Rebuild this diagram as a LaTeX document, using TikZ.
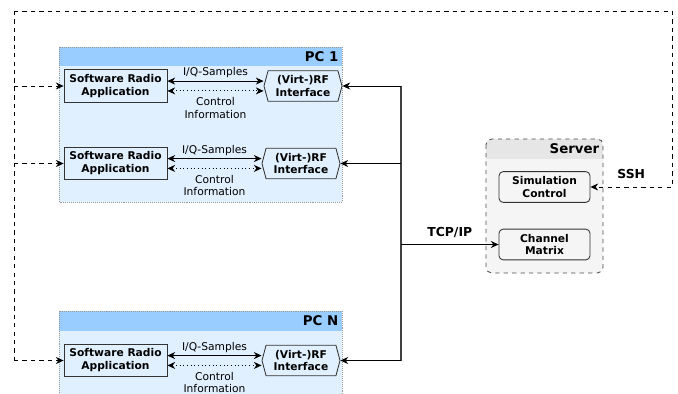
\documentclass[tikz,border=0pt]{standalone}
\usepackage{fontspec}
\setmainfont{DejaVu Sans}
\usepackage{tikz}
\usetikzlibrary{positioning}
\usetikzlibrary{arrows.meta}
\usetikzlibrary{shapes.symbols}

\definecolor{pchead}{HTML}{99CCFF}
\definecolor{pcbody}{HTML}{E1F0FF}
\definecolor{srvhead}{HTML}{E6E6E6}
\definecolor{srvbody}{HTML}{F5F5F5}

\tikzset{
  app/.style={draw=black!80, fill=pcbody, semithick, minimum width=2.575cm, minimum height=0.75cm,
    align=center, font=\fontsize{7.6}{9.2}\selectfont\bfseries},
  rf/.style={signal, signal to=east and west, signal pointer angle=150, draw=black!80, fill=pcbody,
    semithick, minimum width=1.95cm, minimum height=0.75cm, inner xsep=0.5pt,
    align=center, font=\fontsize{7.6}{9.2}\selectfont\bfseries},
  ctl/.style={draw=black!80, fill=srvbody, rounded corners=3pt, semithick, minimum width=2.275cm,
    minimum height=0.77cm, align=center, font=\fontsize{7.6}{9.2}\selectfont\bfseries},
  head/.style={anchor=east, inner sep=1pt, font=\fontsize{9.5}{11}\selectfont\bfseries},
  lbl/.style={font=\fontsize{8.8}{10}\selectfont\bfseries},
  lp/.style={dashed, semithick},
}

\begin{document}
\begin{tikzpicture}[x=0.025cm, y=-0.025cm, >={Stealth[length=5.5pt,width=5pt]},
    font=\fontsize{7.6}{9}\selectfont]
            \useasboundingbox (0,0) rectangle (678,394);

            % Rechner
            \fill[pcbody] (59,47) rectangle (342,202);
            \fill[pchead] (59,47) rectangle (342,66);
            \draw[gray!80, densely dotted] (59,47) rectangle (342,202);
            \node[head] (pc1) at (340,56.5) {PC 1};

            \fill[pcbody] (59,311) rectangle (342,400);
            \fill[pchead] (59,311) rectangle (342,331);
            \draw[gray!80, densely dotted] (59,311) rectangle (342,400);
            \node[head] (pcn) at (340,321) {PC N};

            % Server
            \fill[srvbody, rounded corners=4pt] (486,139) rectangle (603,273);
            \begin{scope}
              \clip[rounded corners=4pt] (486,139) rectangle (603,273);
              \fill[srvhead] (486,139) rectangle (603,159);
            \end{scope}
            \draw[black!70, dashed, semithick, rounded corners=4pt] (486,139) rectangle (603,273);
            \node[head] (srv) at (601,149) {Server};

            % Knoten
            \node[app] (app1) at (115.5,86) {Software Radio\\Application};
            \node[rf] (rf1) at (303,86) {(Virt-)RF\\Interface};
            \node[app] (app2) at (115.5,163.5) {Software Radio\\Application};
            \node[rf] (rf2) at (301,163.5) {(Virt-)RF\\Interface};
            \node[app] (appn) at (115.5,360.5) {Software Radio\\Application};
            \node[rf] (rfn) at (301,360.5) {(Virt-)RF\\Interface};

            \node[ctl] (sim) at (544.5,187) {Simulation\\Control};
            \node[ctl] (chm) at (544.5,244.5) {Channel\\Matrix};

            \coordinate (nw) at (14,11);
            \coordinate (ne) at (672,11);
            \coordinate (bt) at (401,86);
            \coordinate (bb) at (401,360.5);

            % Verbindungen im PC
            \draw[<->, semithick] ([yshift=3.5pt]app1.east) -- node[above=-1.5pt] (iq1) {I/Q-Samples} ([yshift=3.5pt]rf1.west);
            \draw[<->, semithick, dotted] ([yshift=-3.5pt]app1.east) -- node[below=1pt, align=center] (ci1) {Control\\Information} ([yshift=-3.5pt]rf1.west);
            \draw[<->, semithick] ([yshift=3.5pt]app2.east) -- node[above=-1.5pt] (iq2) {I/Q-Samples} ([yshift=3.5pt]rf2.west);
            \draw[<->, semithick, dotted] ([yshift=-3.5pt]app2.east) -- node[below=1pt, align=center] (ci2) {Control\\Information} ([yshift=-3.5pt]rf2.west);
            \draw[<->, semithick] ([yshift=3.5pt]appn.east) -- node[above=-1.5pt] (iqn) {I/Q-Samples} ([yshift=3.5pt]rfn.west);
            \draw[<->, semithick, dotted] ([yshift=-3.5pt]appn.east) -- node[below=1pt, align=center] (cin) {Control\\Information} ([yshift=-3.5pt]rfn.west);

            % Netz
            \draw[black!75, thick] (bt) -- (bb);
            \draw[->, semithick] (bt) -- (rf1.east);
            \draw[->, semithick] (bt |- rf2.east) -- (rf2.east);
            \draw[->, semithick] (bb) -- (rfn.east);
            \draw[->, thick] (bt |- chm.west) -- node[above=1pt, lbl] (tcp) {TCP/IP} (chm.west);

            % Steuerung
            \draw[lp] (nw) -- (ne);
            \draw[lp, ->] (ne) |- node[pos=0.75, above=2pt, lbl] (ssh) {SSH} (sim.east);
            \draw[lp] (nw) -- (nw |- appn.west);
            \draw[lp, ->] (nw |- app1.west) -- (app1.west);
            \draw[lp, ->] (nw |- app2.west) -- (app2.west);
            \draw[lp, ->] (nw |- appn.west) -- (appn.west);
          \end{tikzpicture}
\end{document}
